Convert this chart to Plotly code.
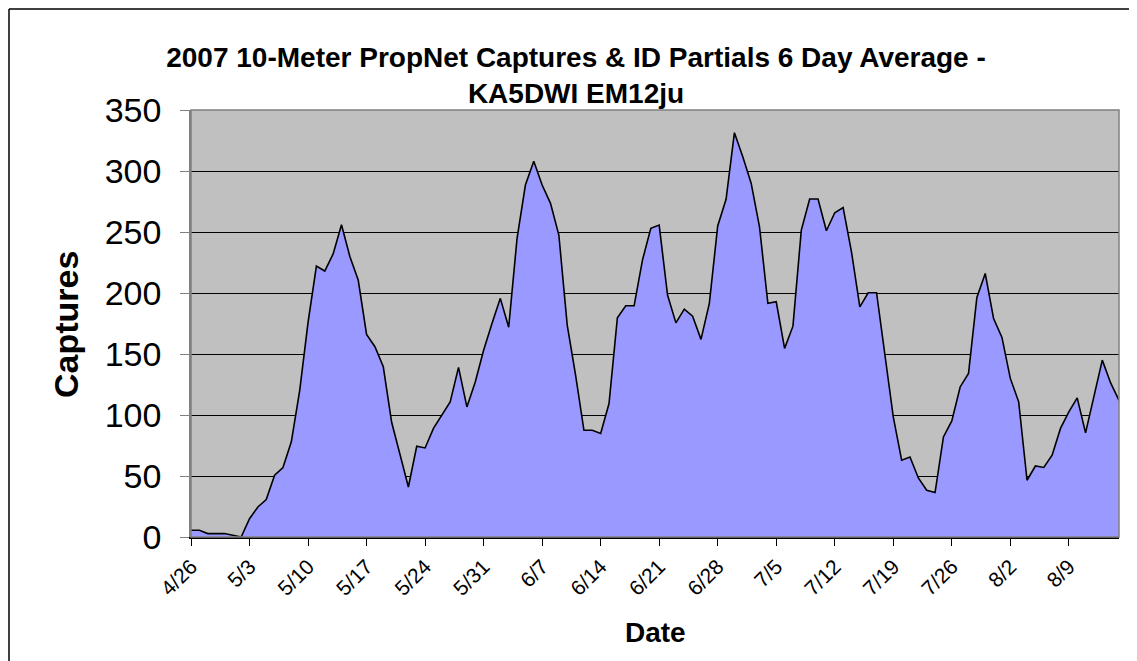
import pandas as pd
import plotly.graph_objects as go

# Daily dates 4/26/2007 .. 8/15/2007
dates = pd.date_range("2007-04-26", "2007-08-15", freq="D")

# 6-day average captures
captures = [
    5.5, 5.5, 2.8, 2.8, 2.8, 1.5, 0, 15, 24.6, 30.7,
    50.6, 57, 78, 120, 176, 222, 218, 232, 256, 230,
    210.6, 166, 156, 139.5, 94, 67.6, 41, 74.4, 73, 89,
    99.8, 110.8, 139, 106.6, 127, 153, 175, 195.6, 172, 244.8,
    288.5, 308, 288.5, 273.5, 247.5, 173.7, 132.7, 87.5, 87.5, 84.8,
    109.4, 179.7, 189.5, 189.5, 227, 253, 255.7, 198.3, 175.5, 186.8,
    181, 162, 191.5, 254.9, 276.8, 331.4, 311.7, 290, 254.3, 191.5,
    192.8, 154.6, 172.8, 251.6, 277, 277, 251, 265.8, 270, 233.8,
    188.7, 200.2, 200.2, 150.4, 98.5, 62.9, 65.6, 48.4, 38.3, 36.4,
    82, 95.2, 123, 134, 196.4, 216, 179, 163.6, 130, 110.8,
    46.5, 58.2, 57, 67, 89, 102.5, 114, 85.3, 115.4, 145,
    126.3, 112,
]

tick_dates = pd.date_range("2007-04-26", "2007-08-09", freq="7D")
tick_labels = ["4/26", "5/3", "5/10", "5/17", "5/24", "5/31", "6/7", "6/14",
               "6/21", "6/28", "7/5", "7/12", "7/19", "7/26", "8/2", "8/9"]

FONT = "Liberation Sans, Arial, sans-serif"

# page body has an 8px margin; figure is sized/offset accordingly
W, H = 1129, 653
L, T = 183, 102
PW, PH = 928, 427


def px_x(page_x):
    return (page_x - 8 - L) / PW


def px_y(page_y):
    return (T + PH - (page_y - 8)) / PH


fig = go.Figure()
fig.add_trace(go.Scatter(
    x=dates, y=captures, mode="lines", fill="tozeroy",
    fillcolor="#9999FF", line=dict(color="black", width=1.6),
    hoverinfo="x+y", showlegend=False,
))

fig.update_layout(
    width=W, height=H,
    margin=dict(l=L, r=W - L - PW, t=T, b=H - T - PH),
    paper_bgcolor="white", plot_bgcolor="#C0C0C0",
    title=dict(
        text="2007 10-Meter PropNet Captures & ID Partials 6 Day Average -<br>KA5DWI EM12ju",
        x=(576 - 8) / W, xanchor="center", y=1 - 58.5 / H, yanchor="middle",
        font=dict(family=FONT, size=28, color="black", weight="bold"),
    ),
    xaxis=dict(
        type="date", range=[dates[0], dates[-1]],
        tickmode="array", tickvals=tick_dates, ticktext=tick_labels,
        tickangle=-45, tickfont=dict(family=FONT, size=21, color="black"),
        ticks="outside", ticklen=7, tickcolor="black", tickwidth=1,
        showgrid=False, showline=True, linecolor="black", linewidth=2,
        zeroline=False,
    ),
    yaxis=dict(
        range=[0, 350], dtick=50, tick0=0,
        tickfont=dict(family=FONT, size=34, color="black"),
        ticks="outside", ticklen=9, tickcolor="#808080", tickwidth=1,
        ticklabelstandoff=12,
        showgrid=True, gridcolor="black", gridwidth=1,
        showline=True, linecolor="#808080", linewidth=1.5,
        zeroline=False,
    ),
    annotations=[
        dict(text="<b>Captures</b>", xref="paper", yref="paper",
             x=px_x(66), y=px_y(324), textangle=-90,
             showarrow=False, xanchor="center", yanchor="middle",
             font=dict(family=FONT, size=34, color="black")),
        dict(text="<b>Date</b>", xref="paper", yref="paper",
             x=px_x(655), y=px_y(632),
             showarrow=False, xanchor="center", yanchor="middle",
             font=dict(family=FONT, size=28, color="black")),
    ],
    shapes=[
        # plot-area border
        dict(type="rect", xref="paper", yref="paper", x0=0, y0=0, x1=1, y1=1,
             line=dict(color="#808080", width=1.5), layer="above"),
        # outer chart border (left and top visible)
        dict(type="line", xref="paper", yref="paper",
             x0=px_x(9), x1=2, y0=px_y(9), y1=px_y(9),
             line=dict(color="black", width=1.5)),
        dict(type="line", xref="paper", yref="paper",
             x0=px_x(9), x1=px_x(9), y0=px_y(9), y1=-2,
             line=dict(color="black", width=1.5)),
    ],
)

fig.write_html("out.html")
